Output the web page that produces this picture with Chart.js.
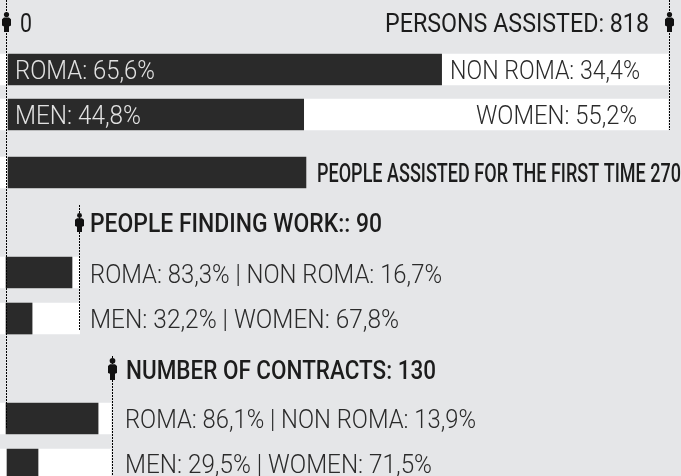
<!DOCTYPE html>
<html>
<head>
<meta charset="utf-8">
<style>
  html, body { margin: 0; padding: 0; background: #e5e6e8; }
  canvas { display: block; }
</style>
<script src="https://cdn.jsdelivr.net/npm/chart.js@4/dist/chart.umd.min.js"></script>
</head>
<body>
<canvas id="chart" width="681" height="476"></canvas>
<script>
// values, x in % of the full 818 bar
const rows = [1, 1.989, 3.264, 5.462, 6.473, 8.67, 9.681];
const darkStart = [0, 0, 0, -0.3, -0.3, -0.3, -0.15];
const darkEnd = [65.7, 44.8, 45.15, 9.7, 3.65, 13.65, 4.55];
const trackEnd = [100, 100, 45.15, 10.85, 10.85, 15.6, 15.6];

const labels = [
  "0", "PERSONS ASSISTED: 818",
  "ROMA: 65,6%", "NON ROMA: 34,4%",
  "MEN: 44,8%", "WOMEN: 55,2%",
  "PEOPLE ASSISTED FOR THE FIRST TIME 270",
  "PEOPLE FINDING WORK:: 90",
  "ROMA: 83,3% | NON ROMA: 16,7%",
  "MEN: 32,2% | WOMEN: 67,8%",
  "NUMBER OF CONTRACTS: 130",
  "ROMA: 86,1% | NON ROMA: 13,9%",
  "MEN: 29,5% | WOMEN: 71,5%"
];

// text layout: left, right, baseline, weight, colour
const labelBoxes = [
  [20, 32, 32, 400, "#1c1c1c"], [385, 649, 32, 400, "#1c1c1c"],
  [15, 155, 79, 300, "#e2e2e2"], [450, 640, 79, 300, "#2a2a2a"],
  [15, 141, 124, 300, "#e2e2e2"], [476, 637, 124, 300, "#2a2a2a"],
  [317, 681, 182, 500, "#1c1c1c"],
  [90, 382, 232, 500, "#1c1c1c"],
  [90, 442, 283, 300, "#2a2a2a"],
  [90, 399, 328, 300, "#2a2a2a"],
  [126, 436, 379, 500, "#1c1c1c"],
  [125, 476, 428, 300, "#2a2a2a"],
  [125, 432, 473, 300, "#2a2a2a"]
];

// dotted guides with a little person on them: x, top, bottom, person top, person bottom
const guides = [
  [6.5, 0, 428, 12, 32],
  [669.5, 0, 130, 12, 32],
  [79.5, 205, 331, 213, 232],
  [112.5, 356, 476, 358, 380]
];

function drawPerson(ctx, x, top, bottom) {
  const h = bottom - top;
  ctx.fillStyle = "#111";
  ctx.beginPath();
  ctx.arc(x, top + h * 0.13, h * 0.13, 0, Math.PI * 2);
  ctx.fill();
  ctx.beginPath();
  ctx.moveTo(x - 2.5, top + h * 0.28);
  ctx.lineTo(x + 2.5, top + h * 0.28);
  ctx.lineTo(x + 4.5, top + h * 0.36);
  ctx.lineTo(x + 4.5, top + h * 0.68);
  ctx.lineTo(x + 2.5, top + h * 0.72);
  ctx.lineTo(x + 2.5, bottom);
  ctx.lineTo(x - 2.5, bottom);
  ctx.lineTo(x - 2.5, top + h * 0.72);
  ctx.lineTo(x - 4.5, top + h * 0.68);
  ctx.lineTo(x - 4.5, top + h * 0.36);
  ctx.closePath();
  ctx.fill();
}

const overlay = {
  id: "overlay",
  afterDatasetsDraw(chart) {
    const ctx = chart.ctx;
    ctx.save();
    guides.forEach(([x, top, bottom, pTop, pBottom]) => {
      ctx.strokeStyle = "#000";
      ctx.lineWidth = 1;
      ctx.setLineDash([2, 1]);
      ctx.beginPath();
      ctx.moveTo(x, top);
      ctx.lineTo(x, bottom);
      ctx.stroke();
      ctx.setLineDash([]);
      drawPerson(ctx, x, pTop, pBottom);
    });

    // squeeze every label into the width it has in the picture
    ctx.textAlign = "left";
    ctx.textBaseline = "alphabetic";
    labels.forEach((text, i) => {
      const [left, right, base, weight, color] = labelBoxes[i];
      ctx.font = weight + " 26px Roboto";
      ctx.fillStyle = color;
      const w = ctx.measureText(text).width;
      ctx.save();
      ctx.translate(left, base);
      ctx.scale((right - left) / w, 1);
      ctx.fillText(text, 0, 0);
      ctx.restore();
    });
    ctx.restore();
  }
};

new Chart(document.getElementById("chart"), {
  type: "bar",
  data: {
    datasets: [
      {
        label: "Share",
        data: rows.map((y, i) => ({ x: [darkStart[i], darkEnd[i]], y })),
        backgroundColor: "#2a2a2a",
        barThickness: 31,
        grouped: false
      },
      {
        label: "Total",
        data: rows.map((y, i) => ({ x: [-1.2121, trackEnd[i]], y })),
        backgroundColor: "#ffffff",
        barThickness: 31,
        grouped: false
      }
    ]
  },
  options: {
    indexAxis: "y",
    responsive: false,
    animation: false,
    layout: { padding: 0 },
    scales: {
      x: { type: "linear", min: -1.2121, max: 101.97, display: false },
      y: { type: "linear", offset: false, reverse: true, min: -0.5275, max: 9.934, display: false }
    },
    plugins: {
      legend: { display: false },
      tooltip: { enabled: false }
    }
  },
  plugins: [overlay]
});
</script>
</body>
</html>
